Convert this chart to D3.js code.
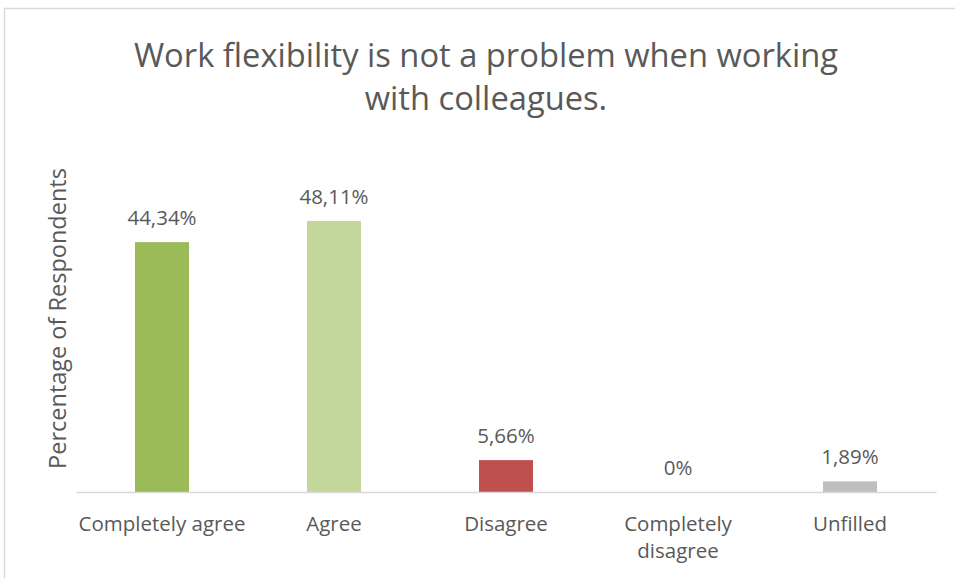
<!DOCTYPE html>
<html>
<head>
<meta charset="utf-8">
<script src="https://cdn.jsdelivr.net/npm/d3@7"></script>
<style>
  html, body { margin: 0; padding: 0; background: #ffffff; }
  svg { display: block; }
  text { font-family: "Open Sans", Lato, sans-serif; fill: #595959; }
</style>
</head>
<body>
<svg id="chart" width="955" height="578"></svg>
<script>
// Survey answers and their shares of respondents (%)
const categories = ["Completely agree", "Agree", "Disagree", "Completely disagree", "Unfilled"];
const values = [44.34, 48.11, 5.66, 0, 1.89];
const valueLabels = ["44,34%", "48,11%", "5,66%", "0%", "1,89%"];
const categoryLines = [["Completely agree"], ["Agree"], ["Disagree"], ["Completely", "disagree"], ["Unfilled"]];
const barColors = ["#9BBB59", "#C3D69B", "#C0504D", "#8064A2", "#BFBFBF"];
const titleLines = ["Work flexibility is not a problem when working", "with colleagues."];
const yAxisTitle = "Percentage of Respondents";

const svg = d3.select("#chart");
const W = 955, H = 578;

// Outer chart frame
svg.append("rect")
  .attr("x", 4.5).attr("y", 8.5)
  .attr("width", W + 20).attr("height", H + 20)
  .attr("fill", "#ffffff")
  .attr("stroke", "#D9D9D9")
  .attr("stroke-width", 1.5);

const plot = { left: 76, right: 936, bottom: 492 };

const x = d3.scaleBand()
  .domain(categories)
  .range([plot.left, plot.right])
  .paddingInner(0.686)
  .paddingOuter(0.343);

// 5.635 px per percentage point
const y = d3.scaleLinear()
  .domain([0, 50])
  .range([plot.bottom, plot.bottom - 50 * 5.635]);

// Title
svg.append("g").selectAll("text")
  .data(titleLines)
  .join("text")
  .attr("x", 486)
  .attr("y", (d, i) => 67 + i * 43)
  .attr("text-anchor", "middle")
  .style("font-size", "32.7px")
  .text(d => d);

// Bars
svg.append("g").selectAll("rect")
  .data(values)
  .join("rect")
  .attr("x", (d, i) => x(categories[i]))
  .attr("width", x.bandwidth())
  .attr("y", d => y(d))
  .attr("height", d => y(0) - y(d))
  .attr("fill", (d, i) => barColors[i]);

// Value labels above bars
svg.append("g").selectAll("text")
  .data(values)
  .join("text")
  .attr("x", (d, i) => x(categories[i]) + x.bandwidth() / 2)
  .attr("y", d => y(d) - 17)
  .attr("text-anchor", "middle")
  .style("font-size", "20.5px")
  .text((d, i) => valueLabels[i]);

// Category axis line
const xAxis = d3.axisBottom(x).tickSize(0).tickFormat("");
const gx = svg.append("g")
  .attr("transform", `translate(0,${plot.bottom})`)
  .call(xAxis);
gx.select(".domain").attr("stroke", "#D9D9D9").attr("stroke-width", 1.5);

// Category labels (wrapped)
const catG = svg.append("g").selectAll("text")
  .data(categories)
  .join("text")
  .attr("x", d => x(d) + x.bandwidth() / 2)
  .attr("y", 531)
  .attr("text-anchor", "middle")
  .style("font-size", "20.5px");
catG.selectAll("tspan")
  .data((d, i) => categoryLines[i].map(l => ({ l, x: x(d) + x.bandwidth() / 2 })))
  .join("tspan")
  .attr("x", t => t.x)
  .attr("dy", (t, j) => j === 0 ? 0 : 27)
  .text(t => t.l);

// Y axis title
svg.append("text")
  .attr("transform", "translate(66,318.5) rotate(-90)")
  .attr("text-anchor", "middle")
  .style("font-size", "23.5px")
  .text(yAxisTitle);
</script>
</body>
</html>
